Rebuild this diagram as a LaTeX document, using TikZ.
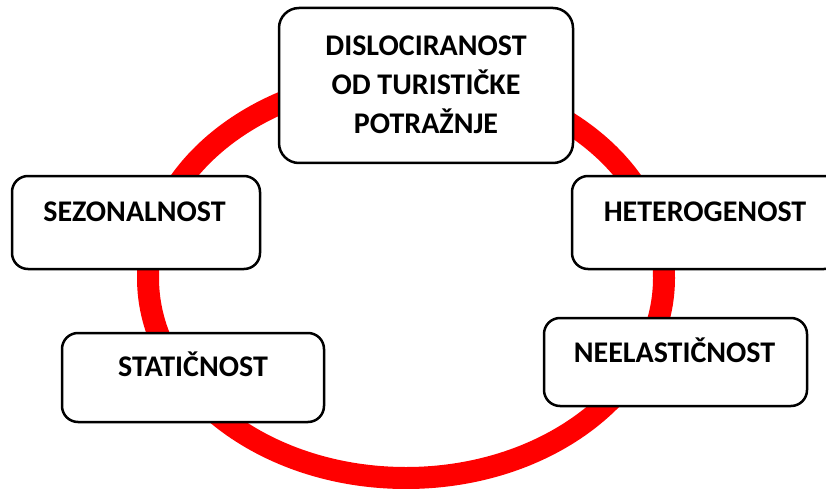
\documentclass[tikz,border=0pt]{standalone}
\usepackage{fontspec}
\setmainfont{Carlito}
\begin{document}
\begin{tikzpicture}[x=1pt,y=-1pt,
  box/.style={draw=black,fill=white,line width=2.5pt,rounded corners=16pt,inner sep=0pt,outer sep=0pt},
  lbl/.style={anchor=base,inner sep=0pt,font=\fontsize{30}{39}\selectfont\bfseries},
  ring/.style={draw=red,line width=22pt}]
\useasboundingbox (0,0) rectangle (826,489);
\clip (0,0) rectangle (826,489);
\draw[ring] (406,278) ellipse [x radius=258, y radius=200];
\node[box,rounded corners=20pt,minimum width=294pt,minimum height=155pt] (top) at (426,85.5) {};
\node[box,minimum width=248pt,minimum height=93pt] (sez) at (136,222.5) {};
\node[box,minimum width=268pt,minimum height=93pt] (het) at (706,222.5) {};
\node[box,minimum width=262pt,minimum height=89pt] (stat) at (193,377.5) {};
\node[box,minimum width=263pt,minimum height=88pt] (neel) at (675.5,362) {};
\node[lbl] (t1) at (426,55.5) {DISLOCIRANOST};
\node[lbl] (t2) at (426,95) {OD TURISTIČKE};
\node[lbl] (t3) at (426,133.5) {POTRAŽNJE};
\node[lbl] (tsez) at (134.5,221) {SEZONALNOST};
\node[lbl] (thet) at (705,221) {HETEROGENOST};
\node[lbl] (tstat) at (193,376.5) {STATIČNOST};
\node[lbl] (tneel) at (674.5,362.5) {NEELASTIČNOST};
\end{tikzpicture}
\end{document}
